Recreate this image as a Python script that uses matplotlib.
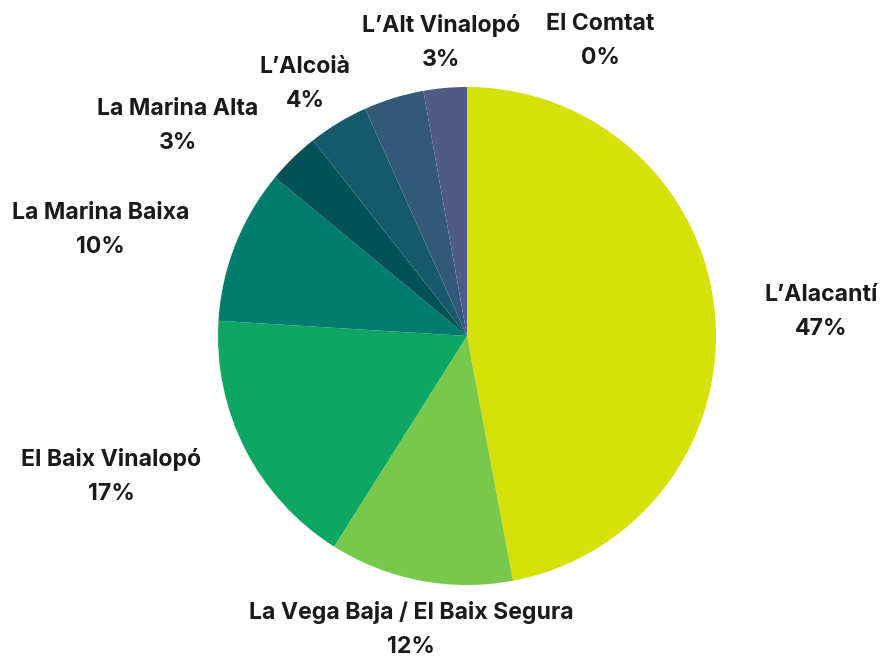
import numpy as np
import matplotlib
matplotlib.use("Agg")
import matplotlib.pyplot as plt

# Data (clockwise from 12 o'clock)
categories = ["L\u2019Alacant\u00ed", "La Vega Baja / El Baix Segura", "El Baix Vinalop\u00f3",
              "La Marina Baixa", "La Marina Alta", "L\u2019Alcoi\u00e0", "El Vinalop\u00f3 Mitj\u00e0",
              "L\u2019Alt Vinalop\u00f3", "El Comtat"]
values = [47.0, 11.9, 17.0, 10.0, 3.4, 3.9, 3.9, 2.8, 0.0]
show_label = [True, True, True, True, True, True, False, True, True]
colors = ["#D6E10A", "#78C94B", "#0DA663", "#007C6E", "#005258",
          "#16596A", "#325A78", "#4D5B85", "#6A5A8A"]

plt.rcParams['font.family'] = ['Inter', 'DejaVu Sans']

W, H = 886, 658
cx, cy, R = 467, 336, 249
fig = plt.figure(figsize=(W / 100, H / 100), dpi=100)
ax = fig.add_axes([0, 0, 1, 1])
ax.axis('off')

wedges, _ = ax.pie(values, colors=colors, startangle=90, counterclock=False,
                   radius=1.0, center=(0, 0), wedgeprops=dict(linewidth=0))
ax.set_xlim(-cx / R, (W - cx) / R)
ax.set_ylim(-(H - cy) / R, cy / R)
ax.set_aspect('equal')

# label layout tweaks (pixels)
x_shift = {"L\u2019Alcoi\u00e0": -7, "El Comtat": 133}
y_shift = {"La Vega Baja / El Baix Segura": 0}
total = sum(values)
for w, name, v, show in zip(wedges, categories, values, show_label):
    if not show:
        continue
    ang = np.deg2rad((w.theta1 + w.theta2) / 2)
    c, s = np.cos(ang), np.sin(ang)
    x, y = 1.2 * c, 1.2 * s
    x += x_shift.get(name, 0) / R
    y += y_shift.get(name, -4) / R
    if c > 0.3:
        ha = 'left'
    elif c < -0.6:
        ha = 'right'
    else:
        ha = 'center'
    pct = round(v / total * 100)
    ax.text(x, y, f"{name}\n{pct}%", ha=ha, va='center', multialignment='center',
            fontsize=16.6, fontweight='bold', color='#1a1a1a', linespacing=1.7)

fig.savefig("out.png", dpi=100, facecolor='white')
